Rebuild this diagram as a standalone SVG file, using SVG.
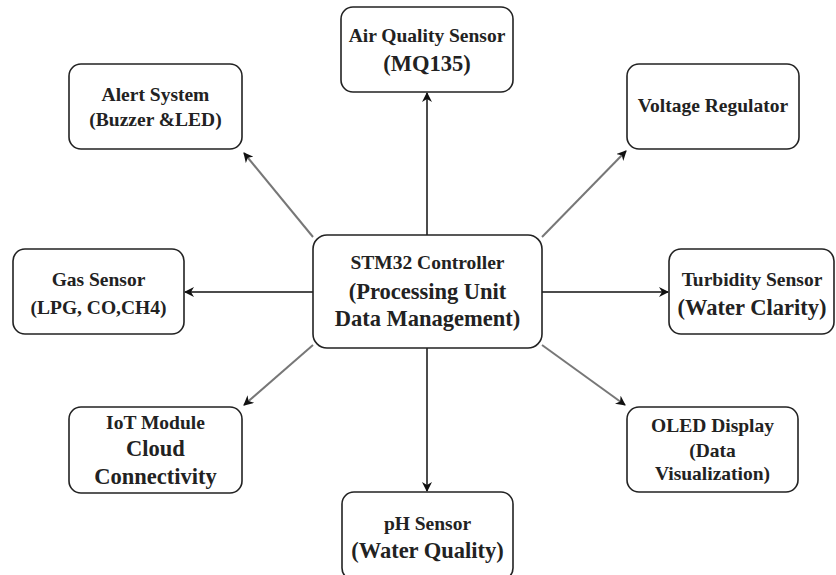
<svg xmlns="http://www.w3.org/2000/svg" width="836" height="575" viewBox="0 0 836 575">
<defs>
<style>
.box{fill:#fff;stroke:#222;stroke-width:1.6}
.t{font-family:"Liberation Serif","DejaVu Serif","Times New Roman",serif;font-weight:bold;fill:#222;text-anchor:middle}
.s{font-size:19.5px}
.l{font-size:22.5px}
.c{fill:none;stroke:#111;stroke-width:1.5}
.g{fill:none;stroke:#777;stroke-width:2}
</style>
<marker id="ah" viewBox="0 0 10 10" refX="9" refY="5" markerWidth="10" markerHeight="10" markerUnits="userSpaceOnUse" orient="auto">
<path d="M0,0 L10,5 L0,10 L3,5 Z" fill="#111"/>
</marker>
</defs>
<rect width="836" height="575" fill="#fff"/>
<g id="connectors">
<line class="c" x1="427" y1="235" x2="427" y2="93" marker-end="url(#ah)"/>
<line class="c" x1="427" y1="348" x2="427" y2="491" marker-end="url(#ah)"/>
<line class="c" x1="313" y1="292" x2="185" y2="292" marker-end="url(#ah)"/>
<line class="c" x1="542" y1="292" x2="668" y2="292" marker-end="url(#ah)"/>
<line class="g" x1="313" y1="237" x2="244" y2="153" marker-end="url(#ah)"/>
<line class="g" x1="313" y1="345" x2="244" y2="405" marker-end="url(#ah)"/>
<line class="g" x1="542" y1="237" x2="626" y2="151" marker-end="url(#ah)"/>
<line class="g" x1="542" y1="345" x2="625" y2="405" marker-end="url(#ah)"/>
</g>
<g id="stm32">
<rect class="box" x="313" y="235" width="229" height="113" rx="14"/>
<text class="t s" x="427.5" y="269">STM32 Controller</text>
<text class="t l" x="427.5" y="299">(Processing Unit</text>
<text class="t l" x="427.5" y="326">Data Management)</text>
</g>
<g id="air">
<rect class="box" x="341" y="7" width="172" height="85" rx="12"/>
<text class="t s" x="427" y="42">Air Quality Sensor</text>
<text class="t l" x="427" y="71">(MQ135)</text>
</g>
<g id="alert">
<rect class="box" x="69" y="64" width="173" height="85" rx="12"/>
<text class="t s" x="155.5" y="101">Alert System</text>
<text class="t s" x="155.5" y="126">(Buzzer &amp;LED)</text>
</g>
<g id="voltage">
<rect class="box" x="627" y="64" width="172" height="85" rx="12"/>
<text class="t s" x="713" y="112">Voltage Regulator</text>
</g>
<g id="gas">
<rect class="box" x="13" y="249" width="171" height="85" rx="12"/>
<text class="t s" x="98.5" y="286">Gas Sensor</text>
<text class="t s" x="98.5" y="314">(LPG, CO,CH4)</text>
</g>
<g id="turbidity">
<rect class="box" x="669" y="249" width="165" height="85" rx="12"/>
<text class="t s" x="752" y="286">Turbidity Sensor</text>
<text class="t l" x="752" y="315">(Water Clarity)</text>
</g>
<g id="iot">
<rect class="box" x="69" y="407" width="173" height="86" rx="12"/>
<text class="t s" x="155.5" y="429">IoT Module</text>
<text class="t l" x="155.5" y="456">Cloud</text>
<text class="t l" x="155.5" y="484">Connectivity</text>
</g>
<g id="oled">
<rect class="box" x="627" y="407" width="171" height="85" rx="12"/>
<text class="t s" x="712.5" y="432">OLED Display</text>
<text class="t s" x="712.5" y="457">(Data</text>
<text class="t s" x="712.5" y="480">Visualization)</text>
</g>
<g id="ph">
<rect class="box" x="342" y="492" width="171" height="88" rx="12"/>
<text class="t s" x="427.5" y="530">pH Sensor</text>
<text class="t l" x="427.5" y="558">(Water Quality)</text>
</g>
</svg>
